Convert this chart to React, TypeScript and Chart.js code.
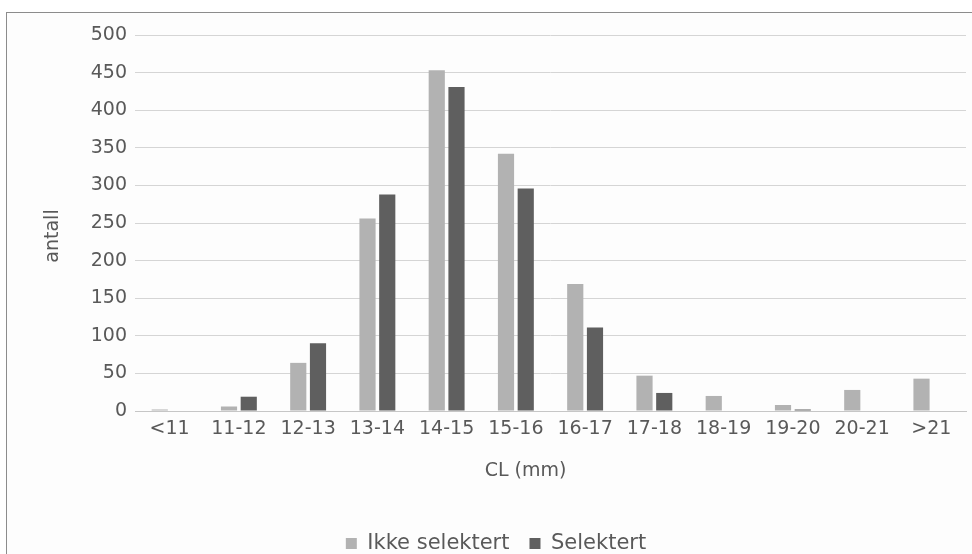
import { useEffect, useRef } from 'react';
import { Chart, registerables } from 'chart.js';

Chart.register(...registerables);

const categories = ['<11', '11-12', '12-13', '13-14', '14-15', '15-16', '16-17', '17-18', '18-19', '19-20', '20-21', '>21'];
const ikkeSelektert = [2, 6, 64, 256, 453, 342, 169, 47, 20, 8, 28, 43];
const selektert = [0, 19, 90, 288, 431, 296, 111, 24, 0, 2, 0, 0];
const seriesNames = ['Ikke selektert', 'Selektert'];
const yMin = 0;
const yMax = 500;
const yStep = 50;
const xTitle = 'CL (mm)';
const yTitle = 'antall';

const FONT = "'DejaVu Sans', sans-serif";
const TEXT = '#595959';

const axisTitles = {
  id: 'axisTitles',
  afterDraw(chart: any) {
    const { ctx, chartArea } = chart;
    ctx.save();
    ctx.fillStyle = TEXT;
    ctx.font = `19px ${FONT}`;
    ctx.textAlign = 'center';
    ctx.textBaseline = 'middle';
    ctx.fillText(xTitle, (chartArea.left - 50 + chartArea.right) / 2, chartArea.bottom + 60);
    ctx.translate(chartArea.left - 82, (chartArea.top + chartArea.bottom + 26) / 2);
    ctx.rotate(-Math.PI / 2);
    ctx.fillText(yTitle, 0, 0);
    ctx.restore();
  },
};

export default function App() {
  const ref = useRef<HTMLCanvasElement>(null);
  useEffect(() => {
    const chart = new Chart(ref.current as HTMLCanvasElement, {
      type: 'bar',
      data: {
        labels: categories,
        datasets: [
          { label: seriesNames[0], data: ikkeSelektert, backgroundColor: '#b2b2b2', categoryPercentage: 0.57, barPercentage: 0.82 },
          { label: seriesNames[1], data: selektert, backgroundColor: '#5f5f5f', categoryPercentage: 0.57, barPercentage: 0.82 },
        ],
      },
      options: {
        responsive: false,
        animation: false,
        layout: { padding: { left: 26, right: 6, top: 35, bottom: 0 } },
        plugins: {
          legend: {
            position: 'bottom',
            labels: { font: { family: FONT, size: 21 }, color: TEXT, boxWidth: 11, boxHeight: 11, padding: 20 },
          },
          tooltip: { enabled: false },
        },
        scales: {
          x: {
            grid: { display: false, drawTicks: false },
            border: { color: '#c6c6c6' },
            ticks: { font: { family: FONT, size: 19 }, color: TEXT, padding: 7, maxRotation: 0, autoSkip: false },
            afterFit: (s: any) => { s.height = 102; },
          },
          y: {
            min: yMin,
            max: yMax,
            ticks: { stepSize: yStep, font: { family: FONT, size: 19 }, color: TEXT, padding: 8 },
            grid: { color: '#d5d5d5', drawTicks: false },
            border: { display: false },
            afterFit: (s: any) => { s.width = 109; },
          },
        },
      },
      plugins: [axisTitles],
    } as any);
    return () => chart.destroy();
  }, []);
  return (
    <div style={{ position: 'fixed', left: 0, top: 0, width: 972, height: 554, overflow: 'hidden', background: '#ffffff' }}>
      <div style={{ position: 'absolute', left: 6, top: 12, width: 1000, height: 600, border: '1px solid #8c8c8c', background: '#fdfdfd' }} />
      <canvas ref={ref} width={972} height={564} style={{ position: 'absolute', left: 0, top: 0, width: 972, height: 564 }} />
    </div>
  );
}
